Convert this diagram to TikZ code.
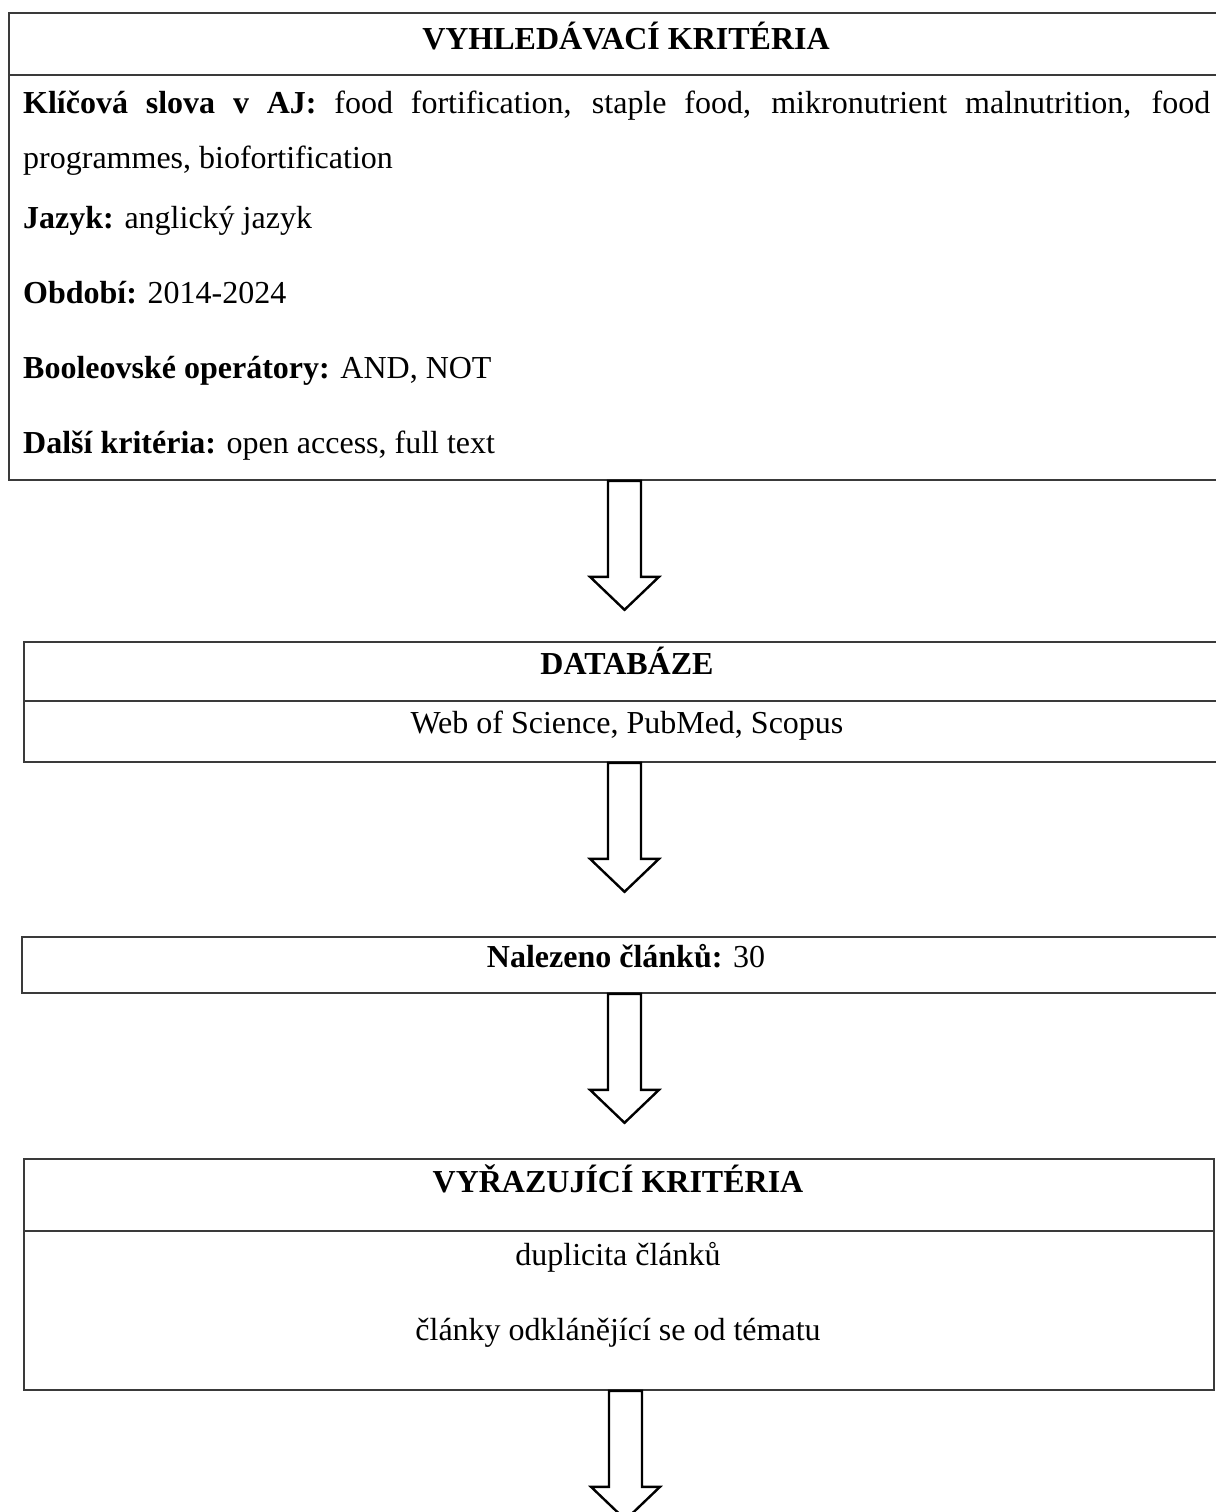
\documentclass[tikz,border=0pt]{standalone}
\usepackage{fontspec}
\setmainfont{Liberation Serif}
\usetikzlibrary{calc}
\definecolor{boxline}{HTML}{3A3A3A}
\begin{document}
\begin{tikzpicture}[x=1pt,y=-1pt,
  box/.style={draw=boxline,line width=1.8pt,rectangle,anchor=north west,inner sep=0pt},
  sepline/.style={draw=boxline,line width=1.8pt},
  txt/.style={anchor=base,inner sep=0pt,font=\fontsize{32}{38}\selectfont},
  btxt/.style={anchor=base,inner sep=0pt,font=\fontsize{32}{38}\selectfont\bfseries},
  ltxt/.style={anchor=base west,inner sep=0pt,font=\fontsize{32}{38}\selectfont},
  harrow/.style={draw=black,line width=2.4pt,fill=white,line join=miter}]
\useasboundingbox[fill=white] (0,0) rectangle (1215,1512);
\coordinate (ax) at (624.5,0);
% Box 1
\node[box,minimum width=1224pt,minimum height=467pt] (b1) at (8,12) {};
\draw[sepline] (8,75) -- (1232,75);
\node[btxt] (t1) at (626,50) {VYHLEDÁVACÍ KRITÉRIA};
\node[ltxt] (k1) at (23,113) {\makebox[1187pt][s]{\textbf{Klíčová slova v AJ:} food fortification, staple food, mikronutrient malnutrition, food}};
\node[ltxt] (k2) at (23,168) {programmes, biofortification};
\node[ltxt] (k3) at (23,228) {\textbf{Jazyk:} anglický jazyk};
\node[ltxt] (k4) at (23,303) {\textbf{Období:} 2014-2024};
\node[ltxt] (k5) at (23,378) {\textbf{Booleovské operátory:} AND, NOT};
\node[ltxt] (k6) at (23,453) {\textbf{Další kritéria:} open access, full text};
% Box 2
\node[box,minimum width=1210pt,minimum height=120pt] (b2) at (23,641) {};
\draw[sepline] (23,701) -- (1233,701);
\node[btxt] (t2) at (627,674) {DATABÁZE};
\node[txt] (d1) at (627,733) {Web of Science, PubMed, Scopus};
% Box 3
\node[box,minimum width=1212pt,minimum height=56pt] (b3) at (21,936) {};
\node[txt] (t3) at (626,967) {\textbf{Nalezeno článků:} 30};
% Box 4
\node[box,minimum width=1190pt,minimum height=231pt] (b4) at (23,1158) {};
\draw[sepline] (23,1231) -- (1213,1231);
\node[btxt] (t4) at (618,1192) {VYŘAZUJÍCÍ KRITÉRIA};
\node[txt] (e1) at (618,1265) {duplicita článků};
\node[txt] (e2) at (618,1340) {články odklánějící se od tématu};
% Arrows
\coordinate (a1) at (b1.south west -| ax);
\coordinate (a2) at (b2.south west -| ax);
\coordinate (a3) at (b3.south west -| ax);
\coordinate (a4) at ($(b4.south west -| ax)+(1,0)$);
\foreach \a in {a1,a2,a3,a4}{
  \draw[harrow] ($(\a)+(-16.5,0)$) -- ++(0,96) -- ++(-18,0) -- ++(34.5,33) -- ++(34.5,-33) -- ++(-18,0) -- ++(0,-96) -- cycle;
}
\end{tikzpicture}
\end{document}
